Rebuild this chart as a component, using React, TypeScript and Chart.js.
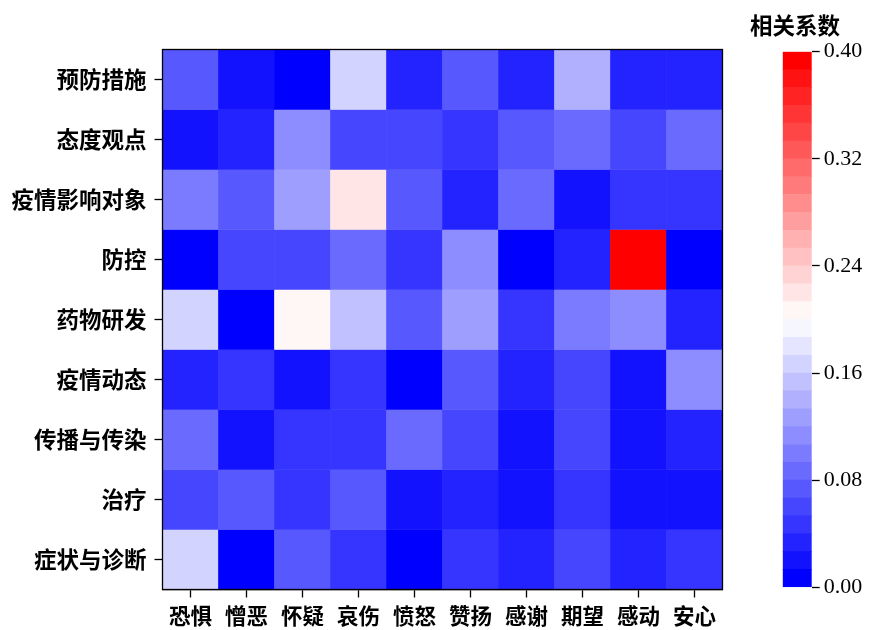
import React, { useEffect, useRef } from "react";
import { Chart, registerables } from "chart.js";

Chart.register(...registerables);

// ---- data ----
const emotions = ["恐惧", "憎恶", "怀疑", "哀伤", "愤怒", "赞扬", "感谢", "期望", "感动", "安心"];
const topics = ["预防措施", "态度观点", "疫情影响对象", "防控", "药物研发", "疫情动态", "传播与传染", "治疗", "症状与诊断"];

const prevention = [0.072, 0.019, 0.004, 0.168, 0.031, 0.075, 0.035, 0.141, 0.033, 0.030];
const attitude = [0.018, 0.032, 0.114, 0.058, 0.060, 0.045, 0.073, 0.083, 0.062, 0.089];
const affected = [0.101, 0.070, 0.125, 0.219, 0.074, 0.030, 0.087, 0.017, 0.044, 0.047];
const control = [0.006, 0.059, 0.063, 0.085, 0.049, 0.112, 0.002, 0.029, 0.400, 0.008];
const drugs = [0.166, 0.003, 0.206, 0.152, 0.071, 0.127, 0.048, 0.097, 0.110, 0.028];
const dynamics = [0.029, 0.041, 0.016, 0.043, 0.001, 0.069, 0.028, 0.057, 0.015, 0.116];
const spread = [0.086, 0.020, 0.047, 0.044, 0.084, 0.062, 0.018, 0.056, 0.016, 0.036];
const treatment = [0.064, 0.068, 0.050, 0.077, 0.022, 0.031, 0.019, 0.052, 0.014, 0.021];
const symptoms = [0.162, 0.005, 0.076, 0.045, 0.002, 0.049, 0.038, 0.055, 0.036, 0.051];

const matrix = [prevention, attitude, affected, control, drugs, dynamics, spread, treatment, symptoms];

const colorbarTicks = [0.0, 0.08, 0.16, 0.24, 0.32, 0.4];
const colorbarTitle = "相关系数";
const vmin = 0;
const vmax = 0.4;
const nLevels = 30;

// discretized bwr colormap
function levelColor(k: number): string {
  const t = k / (nLevels - 1);
  let r: number, g: number, b: number;
  if (t < 0.5) {
    r = 2 * t; g = 2 * t; b = 1;
  } else {
    r = 1; g = 2 * (1 - t); b = 2 * (1 - t);
  }
  return `rgb(${Math.round(r * 255)},${Math.round(g * 255)},${Math.round(b * 255)})`;
}
function valueLevel(v: number): number {
  let k = Math.floor(((v - vmin) / (vmax - vmin)) * nLevels);
  if (k < 0) k = 0;
  if (k > nLevels - 1) k = nLevels - 1;
  return k;
}

const CJK = "'Noto Sans CJK SC', 'Noto Sans', sans-serif";
const SERIF = "'Liberation Serif', 'DejaVu Serif', serif";

const framePlugin = {
  id: "frame",
  afterDraw(chart: any) {
    const { ctx, chartArea: a } = chart;
    ctx.save();
    ctx.strokeStyle = "#000";
    ctx.lineWidth = 1.3;
    ctx.strokeRect(a.left, a.top, a.right - a.left, a.bottom - a.top);
    ctx.restore();
  },
};

export default function App() {
  const heatRef = useRef<HTMLCanvasElement>(null);
  const barRef = useRef<HTMLCanvasElement>(null);

  useEffect(() => {
    const nRows = topics.length;
    const heat = new Chart(heatRef.current!, {
      type: "bar",
      data: {
        labels: emotions,
        datasets: matrix.map((row, i) => ({
          label: topics[i],
          data: row.map(() => [nRows - 1 - i, nRows - i]) as any,
          backgroundColor: row.map((v) => levelColor(valueLevel(v))),
          borderWidth: 0,
          barPercentage: 1,
          categoryPercentage: 1,
          grouped: false,
        })),
      },
      options: {
        responsive: false,
        animation: false,
        layout: { padding: { left: 0, top: 49.5, right: 17.5, bottom: 0 } },
        plugins: { legend: { display: false }, tooltip: { enabled: false } },
        scales: {
          x: {
            type: "category",
            afterFit: (s: any) => { s.height = 40.5; },
            grid: {
              display: true,
              drawOnChartArea: false,
              drawTicks: true,
              tickLength: 8,
              tickWidth: 1.3,
              tickColor: "#000",
              offset: false,
            },
            border: { display: true, color: "#000", width: 1.3 },
            ticks: { color: "#000", font: { family: CJK, size: 21.5, weight: "bold" }, padding: 5, maxRotation: 0 },
          },
          y: {
            type: "linear",
            min: 0,
            max: nRows,
            afterFit: (s: any) => { s.width = 162.5; },
            afterBuildTicks: (s: any) => {
              s.ticks = topics.map((_, i) => ({ value: nRows - 0.5 - i }));
            },
            grid: {
              display: true,
              drawOnChartArea: false,
              drawTicks: true,
              tickLength: 8,
              tickWidth: 1.3,
              tickColor: "#000",
            },
            border: { display: true, color: "#000", width: 1.3 },
            ticks: {
              color: "#000",
              font: { family: CJK, size: 22.5, weight: "bold" },
              padding: 8,
              callback: (v: any) => topics[Math.round(nRows - 0.5 - Number(v))],
            },
          },
        },
      },
      plugins: [framePlugin],
    });

    const step = (vmax - vmin) / nLevels;
    const levelIdx = Array.from({ length: nLevels }, (_, k) => k);
    const bar = new Chart(barRef.current!, {
      type: "bar",
      data: {
        labels: [""],
        datasets: levelIdx.map((k) => ({
          data: [[vmin + k * step, vmin + (k + 1) * step]] as any,
          backgroundColor: levelColor(k),
          borderWidth: 0,
          barPercentage: 1,
          categoryPercentage: 1,
          grouped: false,
        })),
      },
      options: {
        responsive: false,
        animation: false,
        layout: { padding: { left: 42.7, top: 51.7, right: 0, bottom: 42.7 } },
        plugins: { legend: { display: false }, tooltip: { enabled: false } },
        scales: {
          x: { display: false },
          y: {
            type: "linear",
            position: "right",
            min: vmin,
            max: vmax,
            afterFit: (s: any) => { s.width = 60.3; },
            afterBuildTicks: (s: any) => {
              s.ticks = colorbarTicks.map((v) => ({ value: v }));
            },
            grid: {
              display: true,
              drawOnChartArea: false,
              drawTicks: true,
              tickLength: 8,
              tickWidth: 1.3,
              tickColor: "#000",
            },
            border: { display: false },
            ticks: {
              color: "#000",
              font: { family: SERIF, size: 22 },
              padding: 4,
              callback: (v: any) => Number(v).toFixed(2),
            },
          },
        },
      },
    });

    return () => {
      heat.destroy();
      bar.destroy();
    };
  }, []);

  return (
    <div style={{ position: "fixed", left: 0, top: 0, width: 872, height: 630, background: "#fff", overflow: "hidden" }}>
      <canvas ref={heatRef} width={740} height={630} style={{ position: "absolute", left: 0, top: 0 }} />
      <canvas ref={barRef} width={132} height={630} style={{ position: "absolute", left: 740, top: 0 }} />
      <div
        style={{
          position: "absolute",
          left: 749,
          top: 13,
          width: 92,
          textAlign: "center",
          fontFamily: CJK,
          fontSize: 22.5,
          fontWeight: "bold",
          lineHeight: "22px",
          color: "#000",
          whiteSpace: "nowrap",
        }}
      >
        {colorbarTitle}
      </div>
    </div>
  );
}
